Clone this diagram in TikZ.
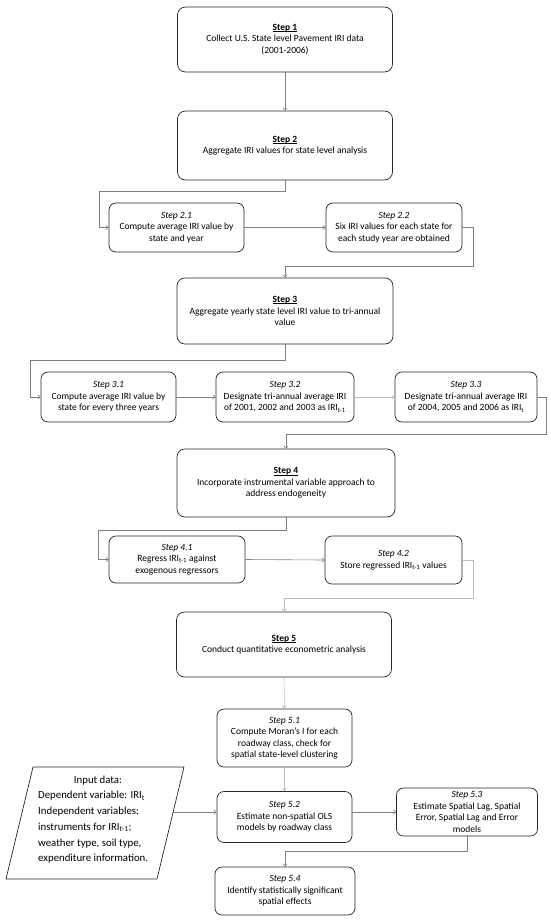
\documentclass[tikz,border=0pt]{standalone}
\usepackage{fontspec}
\setmainfont{Carlito}
\usetikzlibrary{arrows.meta}
\definecolor{cdark}{HTML}{7F7F7F}
\definecolor{clight}{HTML}{BDBDBD}
\newcommand{\stepul}[1]{\setbox0\hbox{\textbf{#1}}\rlap{\rule[-1.3pt]{\wd0}{0.5pt}}\box0}
\tikzset{
  stepbox/.style={draw=black!85, line width=0.7pt, rounded corners=8pt, align=center,
    inner sep=0pt, font=\fontsize{9.5}{11.5}\selectfont},
  conn/.style={draw=cdark, line width=0.6pt, -{Straight Barb[length=2.5pt,width=4.5pt]}},
  connl/.style={conn, draw=clight},
  inptext/.style={inner sep=0pt, font=\fontsize{10.8}{15.8}\selectfont}
}
\begin{document}
\begin{tikzpicture}[x=1pt,y=-1pt]
\path[use as bounding box] (0,0) rectangle (550,921);

\node[stepbox, minimum width=215, minimum height=65] (s1) at (285,39.5)
  {\stepul{Step 1}\\Collect U.S. State level Pavement IRI data\\(2001-2006)};
\node[stepbox, minimum width=215, minimum height=69] (s2) at (285,145.5)
  {\stepul{Step 2}\\Aggregate IRI values for state level analysis};
\node[stepbox, minimum width=135, minimum height=49, rounded corners=7pt] (s21) at (176.5,227.5)
  {\textit{Step 2.1}\\Compute average IRI value by\\state and year};
\node[stepbox, minimum width=136, minimum height=49, rounded corners=7pt] (s22) at (394,227.5)
  {\textit{Step 2.2}\\Six IRI values for each state for\\each study year are obtained};
\node[stepbox, minimum width=216, minimum height=66] (s3) at (285,311)
  {\stepul{Step 3}\\Aggregate yearly state level IRI value to tri-annual\\value};
\node[stepbox, minimum width=135, minimum height=50, rounded corners=7pt] (s31) at (108.5,397)
  {\textit{Step 3.1}\\Compute average IRI value by\\state for every three years};
\node[stepbox, minimum width=138, minimum height=50, rounded corners=7pt] (s32) at (285,397)
  {\textit{Step 3.2}\\Designate tri-annual average IRI\\of 2001, 2002 and 2003 as IRI\textsubscript{t-1}};
\node[stepbox, minimum width=142, minimum height=50, rounded corners=7pt] (s33) at (466,397)
  {\textit{Step 3.3}\\Designate tri-annual average IRI\\of 2004, 2005 and 2006 as IRI\textsubscript{t}};
\node[stepbox, minimum width=218, minimum height=68] (s4) at (286,483)
  {\stepul{Step 4}\\Incorporate instrumental variable approach to\\address endogeneity};
\node[stepbox, minimum width=136, minimum height=47, rounded corners=7pt] (s41) at (177,559.5)
  {\textit{Step 4.1}\\Regress IRI\textsubscript{t-1} against\\exogenous regressors};
\node[stepbox, minimum width=137, minimum height=48, rounded corners=7pt] (s42) at (393.5,560)
  {\textit{Step 4.2}\\Store regressed IRI\textsubscript{t-1} values};
\node[stepbox, minimum width=215, minimum height=65] (s5) at (284,644.5)
  {\stepul{Step 5}\\Conduct quantitative econometric analysis};
\node[stepbox, minimum width=135, minimum height=58, rounded corners=7pt] (s51) at (284.5,738)
  {\textit{Step 5.1}\\Compute Moran’s I for each\\roadway class, check for\\spatial state-level clustering};
\node[stepbox, minimum width=135, minimum height=51, rounded corners=7pt] (s52) at (284.5,817)
  {\textit{Step 5.2}\\Estimate non-spatial OLS\\models by roadway class};
\node[stepbox, minimum width=141, minimum height=48, rounded corners=7pt] (s53) at (467,812)
  {\textit{Step 5.3}\\Estimate Spatial Lag, Spatial\\Error, Spatial Lag and Error\\models};
\node[stepbox, minimum width=140, minimum height=48, rounded corners=7pt] (s54) at (285,891)
  {\textit{Step 5.4}\\Identify statistically significant\\spatial effects};

% input parallelogram
\draw[black!85, line width=0.7pt] (33,767) -- (184,767) -- (157,879) -- (6,879) -- cycle;
\node[inptext] (inpt) at (98,781) {Input data:};
\node[inptext, anchor=north west, align=left] (inpb) at (38,791)
  {Dependent variable: IRI\textsubscript{t}\\
   Independent variables:\\
   instruments for IRI\textsubscript{t-1};\\
   weather type, soil type,\\
   expenditure information.};
\coordinate (inpR) at (173.2,812);

% bend points
\coordinate (b2) at (99,191);
\coordinate (b3) at (473,266);
\coordinate (b4) at (30,360);
\coordinate (b5) at (546,434);
\coordinate (b6) at (98,530);
\coordinate (b7) at (473,598);

% connectors
\draw[conn] (s1.south) -- (s2.north);
\draw[conn] (s2.south) |- (b2) |- (s21.west);
\draw[conn] (s21.east) -- (s22.west);
\draw[conn] (s22.east) -| (b3) -| (s3.north);
\draw[conn] (s3.south) |- (b4) |- (s31.west);
\draw[conn] (s31.east) -- (s32.west);
\draw[connl] (s32.east) -- (s33.west);
\draw[conn] (s33.east) -| (b5) -| (s4.north);
\draw[conn] (s4.south) |- (b6) |- (s41.west);
\draw[conn] (s41.east) -- (s42.west);
\draw[connl] (s42.east) -| (b7) -| (s5.north);
\draw[connl] (s5.south) -- (s51.north);
\draw[connl] (s51.south) -- (s52.north);
\draw[conn] (s52.east |- s53.west) -- (s53.west);
\draw[conn] (inpR) -- (s52.west |- inpR);
\draw[conn] (s53.south) -- ++(0,15) -| (s54.north);
\end{tikzpicture}
\end{document}
